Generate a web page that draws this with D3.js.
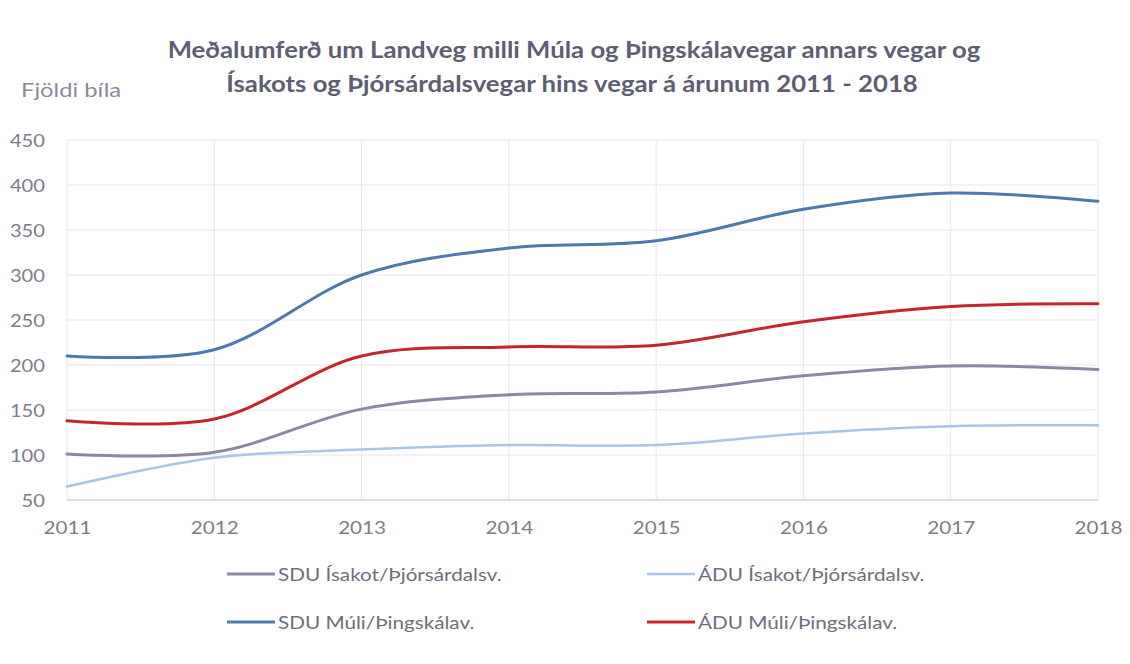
<!DOCTYPE html>
<html><head><meta charset="utf-8">
<script src="https://cdn.jsdelivr.net/npm/d3@7"></script>
<style>body{margin:0;background:#fff;} svg{display:block;}</style>
</head><body>
<svg id="c" width="1130" height="664"></svg>
<script>
const years = [2011, 2012, 2013, 2014, 2015, 2016, 2017, 2018];
const yTicks = [50, 100, 150, 200, 250, 300, 350, 400, 450];
const sduIsakot = [101, 103, 151, 167, 170, 188, 199, 195];
const aduIsakot = [65, 97, 106, 111, 111, 124, 132, 133];
const sduMuli = [210, 217, 300, 330, 338, 373, 391, 382];
const aduMuli = [138, 140, 210, 220, 222, 248, 265, 268];
const seriesNames = ["SDU Ísakot/Þjórsárdalsv.", "ÁDU Ísakot/Þjórsárdalsv.", "SDU Múli/Þingskálav.", "ÁDU Múli/Þingskálav."];
const titleLines = ["Meðalumferð um Landveg milli Múla og Þingskálavegar annars vegar og", "Ísakots og Þjórsárdalsvegar hins vegar á árunum 2011 - 2018"];
const yTitle = "Fjöldi bíla";

const series = [
  {name: seriesNames[0], values: sduIsakot, color: "#8b88a0", w: 3},
  {name: seriesNames[1], values: aduIsakot, color: "#a9c4e4", w: 2.5},
  {name: seriesNames[2], values: sduMuli, color: "#4d7aac", w: 3},
  {name: seriesNames[3], values: aduMuli, color: "#c3262e", w: 3}
];

const svg = d3.select("#c");
const font = "Lato, 'Open Sans', sans-serif";
const x = d3.scaleLinear().domain([2011, 2018]).range([67, 1098]);
const y = d3.scaleLinear().domain([50, 450]).range([500, 140]);

// horizontally stretched text helper (text stays real text)
function stext(parent, str, tx, ty, opts) {
  const t = parent.append("text")
    .attr("transform", `translate(${tx},${ty}) scale(${opts.sx},1)`)
    .attr("text-anchor", opts.anchor || "start")
    .attr("font-family", font).attr("font-size", opts.size)
    .attr("font-weight", opts.weight || "normal")
    .attr("fill", opts.fill).text(str);
  return t;
}

// gridlines
const g = svg.append("g");
g.selectAll("line.h").data(yTicks.slice(1)).join("line")
  .attr("x1", 67).attr("x2", 1098).attr("y1", d => y(d)).attr("y2", d => y(d))
  .attr("stroke", "#e6e6ee").attr("stroke-width", 1);
g.selectAll("line.v").data(years).join("line")
  .attr("x1", d => x(d)).attr("x2", d => x(d)).attr("y1", y(450)).attr("y2", y(50))
  .attr("stroke", "#e6e6ee").attr("stroke-width", 1);
svg.append("line").attr("x1", 67).attr("x2", 1098).attr("y1", y(50)).attr("y2", y(50))
  .attr("stroke", "#cfd0dc").attr("stroke-width", 1.5);

// y axis labels (scale-driven)
const yAxis = d3.axisLeft(y).tickValues(yTicks).tickSize(0).tickPadding(0);
const ya = svg.append("g").attr("transform", "translate(45,0)").call(yAxis);
ya.select(".domain").remove();
ya.selectAll(".tick text").attr("font-family", font).attr("font-size", 18).attr("fill", "#7c7c8a")
  .attr("dy", "0.36em").attr("transform", "scale(1.12,1)");

// x axis labels
const xAxis = d3.axisBottom(x).tickValues(years).tickFormat(d3.format("d")).tickSize(0).tickPadding(0);
const xa = svg.append("g").attr("transform", "translate(0,534)").call(xAxis);
xa.select(".domain").remove();
xa.selectAll(".tick text").attr("font-family", font).attr("font-size", 17.5).attr("fill", "#7c7c8a")
  .attr("dy", 0).attr("y", 0).attr("transform", "scale(1.18,1)");

// lines
const line = d3.line().x((d, i) => x(years[i])).y(d => y(d)).curve(d3.curveCatmullRom.alpha(0.5));
svg.selectAll("path.s").data(series).join("path")
  .attr("d", d => line(d.values)).attr("fill", "none")
  .attr("stroke", d => d.color).attr("stroke-width", d => d.w).attr("stroke-linecap", "round");

// title
stext(svg, titleLines[0], 574, 58, {sx: 1.17, size: 22, weight: "bold", fill: "#5e5e72", anchor: "middle"});
stext(svg, titleLines[1], 572, 92, {sx: 1.17, size: 22, weight: "bold", fill: "#5e5e72", anchor: "middle"});
stext(svg, yTitle, 21, 97, {sx: 1.25, size: 19, fill: "#8a8a9a"});

// legend
const legPos = [[227, 574], [647, 574], [227, 622], [647, 622]];
series.forEach((s, i) => {
  const [lx, ly] = legPos[i];
  svg.append("line").attr("x1", lx).attr("x2", lx + 48).attr("y1", ly).attr("y2", ly)
    .attr("stroke", s.color).attr("stroke-width", s.w);
  stext(svg, s.name, lx + 51, ly + 7, {sx: 1.15, size: 18, fill: "#6e6e7e"});
});
</script>
</body></html>
